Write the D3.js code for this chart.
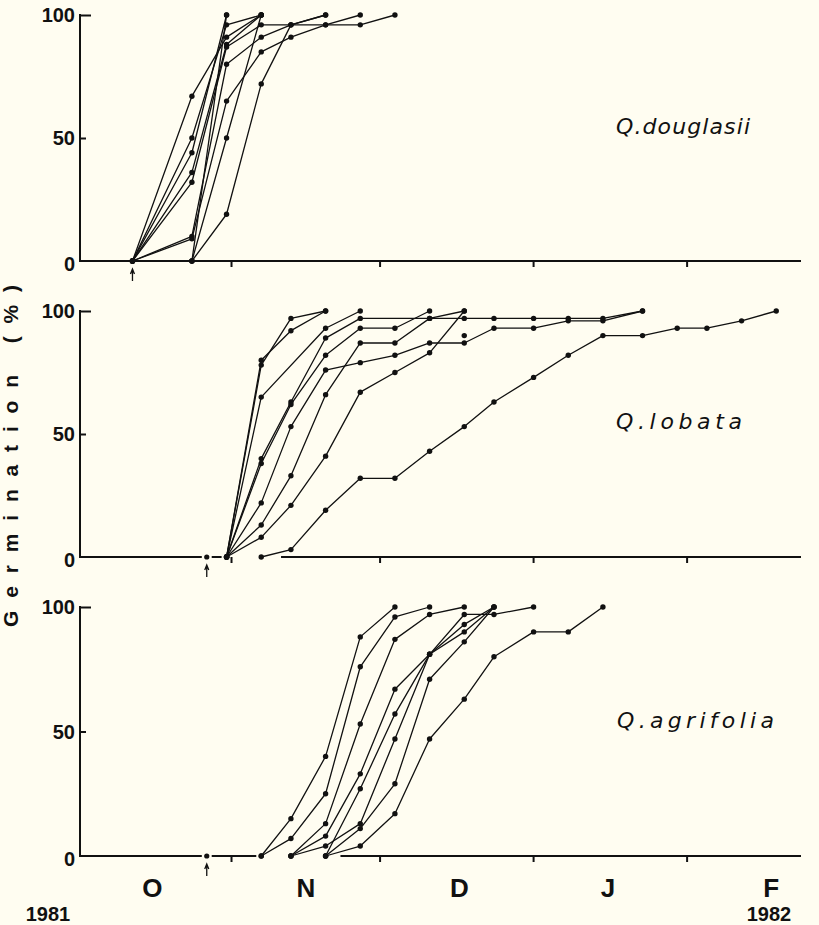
<!DOCTYPE html>
<html>
<head>
<meta charset="utf-8">
<script src="https://cdn.jsdelivr.net/npm/d3@7"></script>
<style>
  html, body { margin: 0; padding: 0; background: #fffdf1; }
  svg { display: block; }
  .tick-label { font-family: "Liberation Sans", Arial, sans-serif; font-weight: bold; font-size: 20px; fill: #111; }
  .month { font-family: "Liberation Sans", Arial, sans-serif; font-weight: bold; font-size: 26px; fill: #111; }
  .year { font-family: "Liberation Sans", Arial, sans-serif; font-weight: bold; font-size: 20px; fill: #111; }
  .species { font-family: "DejaVu Sans", sans-serif; font-style: italic; font-size: 22px; fill: #111; }
  .ylabel { font-family: "Liberation Sans", Arial, sans-serif; font-weight: bold; font-size: 21px; fill: #111; }
</style>
</head>
<body>
<div id="chart"></div>
<script>
// sampling dates per species
const douglasiiDates = ["1981-10-12", "1981-10-24", "1981-10-31", "1981-11-07", "1981-11-13",
    "1981-11-20", "1981-11-27", "1981-12-04"];
const douglasiiSeries = [
    [0, 67, 91, 100],
    [0, 50, 96, 100],
    [0, 44, 100],
    [0, 36, 88, 100],
    [0, 32, 87, 96, 96, 100],
    [0, 10, 80, 91, 96, 96, 100],
    [0, 9, 65, 85, 91, 96, 96, 100],
    [null, 0, 50, 100],
    [null, 0, 19, 72, 96, 100],
    [null, 0, 100]
];

const lobataDates = ["1981-10-31", "1981-11-07", "1981-11-13", "1981-11-20", "1981-11-27",
    "1981-12-04", "1981-12-11", "1981-12-18", "1981-12-24", "1982-01-01", "1982-01-08",
    "1982-01-15", "1982-01-23", "1982-01-30", "1982-02-05", "1982-02-12", "1982-02-19"];
const lobataSeries = [
    [0, 78, 97, 100],
    [0, 80, 92, 100],
    [0, 65, null, 93, 100],
    [0, 40, 63, 89, 97, null, 97, 97, 97, 97, 97, 97, 100],
    [0, 38, 62, 82, 93, 93, 100],
    [0, 22, 53, 76, 79, 82, 87, 87, 93, 93, 96, 96, 100],
    [0, 13, 33, 66, 87, 87, 97, 100],
    [0, 8, 21, 41, 67, 75, 83, 100],
    [null, 0, 3, 19, 32, 32, 43, 53, 63, 73, 82, 90, 90, 93, 93, 96, 100],
    [null, null, null, null, null, null, null, 90]
];

const agrifoliaDates = ["1981-11-07", "1981-11-13", "1981-11-20", "1981-11-27", "1981-12-04",
    "1981-12-11", "1981-12-18", "1981-12-24", "1982-01-01", "1982-01-08", "1982-01-15"];
const agrifoliaSeries = [
    [0, 15, 40, 88, 100],
    [0, 7, 25, 76, 96, 100],
    [null, 0, 13, 53, 87, 97, 100],
    [null, 0, 8, 33, 67, 81, 97, 97, 100],
    [null, null, 0, 27, 57, 81, 93, 100],
    [null, 0, 4, 13, 47, 81, 90, 100],
    [null, null, 0, 11, 29, 71, 86, 100],
    [null, null, 0, 4, 17, 47, 63, 80, 90, 90, 100]
];

// sowing date (arrow) and the stretches of zero line drawn in each panel
const sowingDates = ["1981-10-12", "1981-10-27", "1981-10-27"];
const douglasiiBase = [["1981-10-01", "1982-02-24"]];
const lobataBase = [["1981-10-01", "1981-10-26"], ["1981-10-28", "1981-10-30"], ["1981-11-11", "1982-02-24"]];
const agrifoliaBase = [["1981-10-01", "1981-10-26"], ["1981-10-28", "1981-11-06"], ["1981-11-23", "1982-02-24"]];

const monthTicks = ["1981-11-01", "1981-12-01", "1982-01-01", "1982-02-01"];
const monthLabels = ["O", "N", "D", "J", "F"];
const monthLabelDates = ["1981-10-16", "1981-11-16", "1981-12-17", "1982-01-16", "1982-02-18"];
const yearLabels = ["1981", "1982"];
const yTicks = [0, 50, 100];

const W = 819, H = 925;
const parse = d3.utcParse("%Y-%m-%d");
const x = d3.scaleUtc()
    .domain([parse("1981-10-01"), parse("1982-02-24")])
    .range([78, 801]);
const axisX = 80;

const svg = d3.select("#chart").append("svg")
    .attr("width", W).attr("height", H);
svg.append("rect").attr("width", W).attr("height", H).attr("fill", "#fffdf1");

const panels = [
    {name: "Q.douglasii", dates: douglasiiDates, series: douglasiiSeries, base: douglasiiBase,
        top: 15, bottom: 261, lx: 616, ly: 134, len: 134},
    {name: "Q.lobata", dates: lobataDates, series: lobataSeries, base: lobataBase,
        top: 311, bottom: 557, lx: 616, ly: 429, len: 126},
    {name: "Q.agrifolia", dates: agrifoliaDates, series: agrifoliaSeries, base: agrifoliaBase,
        top: 607, bottom: 856, lx: 617, ly: 728, len: 157}
];

panels.forEach(function (p, i) {
    let y = d3.scaleLinear().domain([0, 100]).range([p.bottom, p.top]);
    let g = svg.append("g");

    // y axis, ticks pointing inwards
    let yAxis = g.append("g")
        .attr("transform", "translate(" + axisX + ",0)")
        .call(d3.axisLeft(y).tickValues(yTicks).tickSize(-6).tickPadding(5));
    yAxis.select(".domain").remove();
    yAxis.selectAll(".tick line").attr("stroke", "#111").attr("stroke-width", 2)
        .attr("x2", d => d === 100 ? 11 : (d === 0 ? 0 : 6));
    yAxis.selectAll(".tick text").attr("class", "tick-label")
        .attr("dy", d => d === 0 ? "0.45em" : "0.34em");
    g.append("line")
        .attr("x1", axisX).attr("x2", axisX)
        .attr("y1", y(100) - 1).attr("y2", y(0) + 1)
        .attr("stroke", "#111").attr("stroke-width", 2);

    // zero line in pieces
    g.selectAll(".base")
        .data(p.base)
        .enter()
        .append("line")
        .attr("x1", d => Math.max(axisX, x(parse(d[0]))))
        .attr("x2", d => x(parse(d[1])))
        .attr("y1", y(0)).attr("y2", y(0))
        .attr("stroke", "#111").attr("stroke-width", 2);

    // month boundary ticks
    g.selectAll(".mtick")
        .data(monthTicks)
        .enter()
        .append("line")
        .attr("x1", d => x(parse(d))).attr("x2", d => x(parse(d)))
        .attr("y1", y(0)).attr("y2", y(0) + 6)
        .attr("stroke", "#111").attr("stroke-width", 2);

    // sowing arrow + point
    let sx = x(parse(sowingDates[i]));
    g.append("path")
        .attr("d", "M" + sx + "," + (y(0) + 20) + "V" + (y(0) + 9) +
            "M" + (sx - 2) + "," + (y(0) + 13) + "L" + sx + "," + (y(0) + 8) + "L" + (sx + 2) + "," + (y(0) + 13))
        .attr("fill", "none").attr("stroke", "#111").attr("stroke-width", 1.3);
    g.append("circle").attr("cx", sx).attr("cy", y(0)).attr("r", 2.6).attr("fill", "#111");

    let line = d3.line()
        .x(d => x(d.date))
        .y(d => y(d.value));

    let seriesPts = p.series.map(function (s) {
        return s.map((v, j) => ({date: parse(p.dates[j]), value: v}))
            .filter(d => d.value !== null);
    });

    g.selectAll(".series")
        .data(seriesPts)
        .enter()
        .append("path")
        .attr("d", line)
        .attr("fill", "none")
        .attr("stroke", "#111")
        .attr("stroke-width", 1.3)
        .attr("stroke-linejoin", "round");

    g.selectAll(".pt")
        .data(seriesPts.flat())
        .enter()
        .append("circle")
        .attr("cx", d => x(d.date))
        .attr("cy", d => y(d.value))
        .attr("r", 2.7)
        .attr("fill", "#111");

    g.append("text")
        .attr("class", "species")
        .attr("x", p.lx).attr("y", p.ly)
        .attr("textLength", p.len)
        .attr("lengthAdjust", "spacing")
        .text(p.name);
});

// month letters and years
svg.selectAll(".month")
    .data(monthLabels)
    .enter()
    .append("text")
    .attr("class", "month")
    .attr("x", (d, i) => x(parse(monthLabelDates[i])))
    .attr("y", 897)
    .attr("text-anchor", "middle")
    .text(d => d);

svg.selectAll(".year")
    .data(yearLabels)
    .enter()
    .append("text")
    .attr("class", "year")
    .attr("x", (d, i) => i === 0 ? 48 : 769)
    .attr("y", 921)
    .attr("text-anchor", "middle")
    .text(d => d);

svg.append("text")
    .attr("class", "ylabel")
    .attr("transform", "translate(18,456) rotate(-90)")
    .attr("text-anchor", "middle")
    .attr("textLength", 342)
    .attr("lengthAdjust", "spacing")
    .text("Germination (%)");
</script>
</body>
</html>
